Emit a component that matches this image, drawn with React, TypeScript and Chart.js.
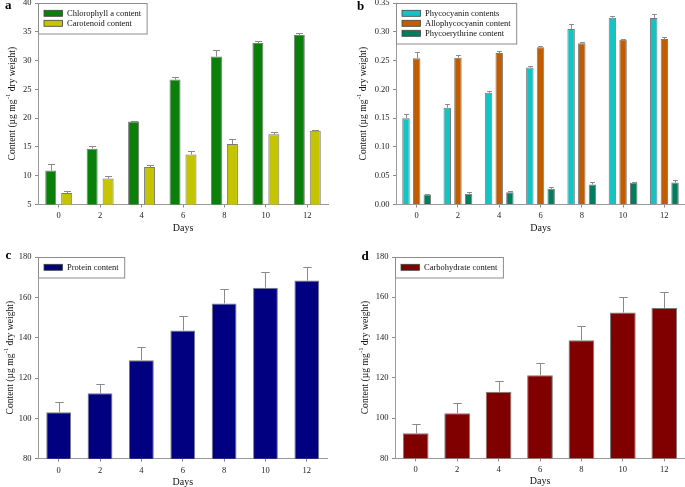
import React, { useEffect, useRef } from 'react';
import { Chart, registerables } from 'chart.js';

Chart.register(...registerables);

// ---------- data ----------
const days = ['0', '2', '4', '6', '8', '10', '12'];

const chlorophyll = [10.9, 14.7, 19.4, 26.7, 30.7, 33.05, 34.45];
const chlorophyllErr = [1.1, 0.4, 0.1, 0.4, 1.2, 0.4, 0.4];
const carotenoid = [7.0, 9.5, 11.5, 13.7, 15.5, 17.2, 17.8];
const carotenoidErr = [0.3, 0.5, 0.4, 0.6, 0.8, 0.35, 0.1];

const phycocyanin = [0.150, 0.168, 0.194, 0.238, 0.305, 0.3245, 0.324];
const phycocyaninErr = [0.007, 0.006, 0.004, 0.003, 0.008, 0.003, 0.007];
const allophycocyanin = [0.254, 0.255, 0.263, 0.273, 0.280, 0.286, 0.2875];
const allophycocyaninErr = [0.011, 0.004, 0.004, 0.003, 0.003, 0.002, 0.003];
const phycoerythrine = [0.0174, 0.0185, 0.0214, 0.0272, 0.0347, 0.0376, 0.038];
const phycoerythrineErr = [0.001, 0.003, 0.002, 0.004, 0.004, 0.002, 0.004];

const protein = [103.0, 112.4, 128.8, 143.6, 157.0, 164.8, 168.3];
const proteinErr = [5.0, 4.8, 6.4, 7.0, 7.1, 7.6, 6.8];

const carbohydrate = [92.4, 102.4, 113.1, 121.2, 138.7, 152.4, 154.7];
const carbohydrateErr = [4.6, 5.0, 5.1, 6.0, 6.8, 7.6, 7.8];

const FONT = "'Liberation Serif', 'Times New Roman', serif";

type DS = { label: string; data: number[]; err: number[]; color: string };
type Panel = {
  letter: string;
  box: { x: number; y: number; w: number; h: number };
  area: { left: number; top: number; right: number; bottom: number };
  yMin: number; yMax: number; yStep: number; dec: number;
  catPct: number; barPct: number;
  yTitleX: number;
  letterPos: { x: number; y: number };
  datasets: DS[];
};

const panels: Panel[] = [
  {
    letter: 'a',
    box: { x: 0, y: 0, w: 340, h: 245 },
    area: { left: 38, top: 3, right: 328, bottom: 204.5 },
    yMin: 5, yMax: 40, yStep: 5, dec: 0,
    catPct: 0.77, barPct: 0.69,
    yTitleX: 12,
    letterPos: { x: 5, y: 8.5 },
    datasets: [
      { label: 'Chlorophyll a content', data: chlorophyll, err: chlorophyllErr, color: '#0a800a' },
      { label: 'Carotenoid content', data: carotenoid, err: carotenoidErr, color: '#c4c400' },
    ],
  },
  {
    letter: 'b',
    box: { x: 340, y: 0, w: 345, h: 245 },
    area: { left: 56, top: 3, right: 345, bottom: 204.5 },
    yMin: 0, yMax: 0.35, yStep: 0.05, dec: 2,
    catPct: 0.775, barPct: 0.7,
    yTitleX: 23.5,
    letterPos: { x: 17, y: 10 },
    datasets: [
      { label: 'Phycocyanin contents', data: phycocyanin, err: phycocyaninErr, color: '#12c4c4' },
      { label: 'Allophycocyanin content', data: allophycocyanin, err: allophycocyaninErr, color: '#c25c00' },
      { label: 'Phycoerythrine content', data: phycoerythrine, err: phycoerythrineErr, color: '#007d5f' },
    ],
  },
  {
    letter: 'c',
    box: { x: 0, y: 245, w: 340, h: 242 },
    area: { left: 38, top: 12, right: 327.5, bottom: 213.7 },
    yMin: 80, yMax: 180, yStep: 20, dec: 0,
    catPct: 1, barPct: 0.6,
    yTitleX: 10,
    letterPos: { x: 5.5, y: 14 },
    datasets: [
      { label: 'Protein content', data: protein, err: proteinErr, color: '#000080' },
    ],
  },
  {
    letter: 'd',
    box: { x: 340, y: 245, w: 345, h: 242 },
    area: { left: 55, top: 12, right: 345, bottom: 213.3 },
    yMin: 80, yMax: 180, yStep: 20, dec: 0,
    catPct: 1, barPct: 0.62,
    yTitleX: 25,
    letterPos: { x: 21.5, y: 15 },
    datasets: [
      { label: 'Carbohydrate content', data: carbohydrate, err: carbohydrateErr, color: '#800000' },
    ],
  },
];

const errorBarPlugin = {
  id: 'errorBars',
  afterDatasetsDraw(chart: any) {
    const ctx = chart.ctx;
    const ys = chart.scales.y;
    ctx.save();
    ctx.strokeStyle = '#8a8a8a';
    ctx.lineWidth = 1;
    chart.data.datasets.forEach((ds: any, i: number) => {
      const meta = chart.getDatasetMeta(i);
      meta.data.forEach((bar: any, j: number) => {
        const e = ds.errors[j];
        const v = ds.data[j];
        const yTop = ys.getPixelForValue(v + e);
        const yb = bar.y;
        const half = Math.min(bar.width * 0.32, 4.2);
        const x = Math.round(bar.x) + 0.5;
        const yt = Math.round(yTop) + 0.5;
        ctx.beginPath();
        ctx.moveTo(x, yb);
        ctx.lineTo(x, yt);
        ctx.moveTo(x - half, yt);
        ctx.lineTo(x + half, yt);
        ctx.stroke();
      });
    });
    ctx.restore();
  },
};

function makeDecorPlugin(p: Panel) {
  return {
    id: 'decor',
    afterDraw(chart: any) {
      const ctx = chart.ctx;
      const ca = chart.chartArea;
      ctx.save();
      // panel letter
      ctx.fillStyle = '#000';
      ctx.font = `bold 13px ${FONT}`;
      ctx.textAlign = 'left';
      ctx.textBaseline = 'alphabetic';
      ctx.fillText(p.letter, p.letterPos.x, p.letterPos.y);

      // x title
      ctx.font = `10px ${FONT}`;
      ctx.textAlign = 'center';
      ctx.textBaseline = 'middle';
      ctx.fillStyle = '#111';
      ctx.fillText('Days', (ca.left + ca.right) / 2, ca.bottom + 23.5);

      // y title with superscript
      const mainFont = `9.6px ${FONT}`;
      const supFont = `6.5px ${FONT}`;
      const part1 = 'Content (\u00b5g mg';
      const sup = '-1';
      const part2 = ' dry weight)';
      ctx.font = mainFont;
      const w1 = ctx.measureText(part1).width;
      const w3 = ctx.measureText(part2).width;
      ctx.font = supFont;
      const w2 = ctx.measureText(sup).width;
      const total = w1 + w2 + w3;
      const cy = (ca.top + ca.bottom) / 2;
      ctx.translate(p.yTitleX, cy);
      ctx.rotate(-Math.PI / 2);
      ctx.textAlign = 'left';
      ctx.textBaseline = 'middle';
      let x = -total / 2;
      ctx.font = mainFont;
      ctx.fillText(part1, x, 0);
      x += w1;
      ctx.font = supFont;
      ctx.fillText(sup, x + 0.3, -3.8);
      x += w2 + 0.3;
      ctx.font = mainFont;
      ctx.fillText(part2, x, 0);
      ctx.setTransform(1, 0, 0, 1, 0, 0);

      // legend box
      const lf = `8.5px ${FONT}`;
      ctx.font = lf;
      let maxW = 0;
      p.datasets.forEach((d) => {
        maxW = Math.max(maxW, ctx.measureText(d.label).width);
      });
      const bx = Math.round(ca.left) + 0.5;
      const by = Math.round(ca.top) + 0.5;
      const bw = 28.5 + maxW + 6;
      const bh = p.datasets.length * 10 + 10.5;
      ctx.fillStyle = '#fff';
      ctx.fillRect(bx, by, bw, bh);
      ctx.strokeStyle = '#8c8c8c';
      ctx.lineWidth = 1;
      ctx.strokeRect(bx, by, bw, bh);
      p.datasets.forEach((d, i) => {
        const rowY = ca.top + 10.3 + i * 10;
        ctx.fillStyle = d.color;
        ctx.fillRect(bx + 5.5, rowY - 3, 18.5, 6);
        ctx.strokeStyle = '#444';
        ctx.lineWidth = 0.8;
        ctx.strokeRect(bx + 5.5, rowY - 3, 18.5, 6);
        ctx.fillStyle = '#111';
        ctx.textAlign = 'left';
        ctx.textBaseline = 'middle';
        ctx.font = lf;
        ctx.fillText(d.label, bx + 28.5, rowY + 0.5);
      });
      ctx.restore();
    },
  };
}

function PanelChart({ p }: { p: Panel }) {
  const ref = useRef<HTMLCanvasElement | null>(null);
  useEffect(() => {
    if (!ref.current) return;
    const chart = new Chart(ref.current, {
      type: 'bar',
      data: {
        labels: days,
        datasets: p.datasets.map((d) => ({
          label: d.label,
          data: d.data,
          errors: d.err,
          backgroundColor: d.color,
          borderColor: '#7a7a7a',
          borderWidth: 1,
          barPercentage: p.barPct,
          categoryPercentage: p.catPct,
        })) as any,
      },
      options: {
        animation: false,
        responsive: false,
        maintainAspectRatio: false,
        devicePixelRatio: 1,
        layout: {
          padding: { top: p.area.top, right: p.box.w - p.area.right, left: 0, bottom: 0 },
        },
        plugins: {
          legend: { display: false },
          tooltip: { enabled: false },
          title: { display: false },
        },
        scales: {
          x: {
            type: 'category',
            grid: {
              display: true,
              drawOnChartArea: false,
              drawTicks: true,
              tickLength: 3,
              color: '#8a8a8a',
              offset: false,
            },
            border: { display: true, color: '#9a9a9a', width: 1 },
            ticks: {
              font: { family: FONT, size: 8.5 },
              color: '#222',
              padding: 3.5,
              maxRotation: 0,
              autoSkip: false,
            },
            afterFit: (s: any) => {
              s.height = p.box.h - p.area.bottom;
              s.paddingLeft = 0;
              s.paddingRight = 0;
            },
          },
          y: {
            min: p.yMin,
            max: p.yMax,
            grid: {
              display: true,
              drawOnChartArea: false,
              drawTicks: true,
              tickLength: 3,
              color: '#8a8a8a',
            },
            border: { display: true, color: '#9a9a9a', width: 1 },
            ticks: {
              stepSize: p.yStep,
              font: { family: FONT, size: 8.5 },
              color: '#222',
              padding: 3.5,
              callback: (v: any) => Number(v).toFixed(p.dec),
            },
            afterFit: (s: any) => {
              s.width = p.area.left;
              s.paddingTop = 0;
              s.paddingBottom = 0;
            },
          },
        },
      } as any,
      plugins: [errorBarPlugin, makeDecorPlugin(p)],
    });
    return () => chart.destroy();
  }, [p]);
  return (
    <canvas
      ref={ref}
      width={p.box.w}
      height={p.box.h}
      style={{
        position: 'absolute',
        left: p.box.x,
        top: p.box.y,
        width: p.box.w,
        height: p.box.h,
      }}
    />
  );
}

export default function App() {
  return (
    <div
      style={{
        position: 'absolute',
        left: 0,
        top: 0,
        width: 685,
        height: 487,
        background: '#fff',
        overflow: 'hidden',
      }}
    >
      {panels.map((p) => (
        <PanelChart key={p.letter} p={p} />
      ))}
    </div>
  );
}
